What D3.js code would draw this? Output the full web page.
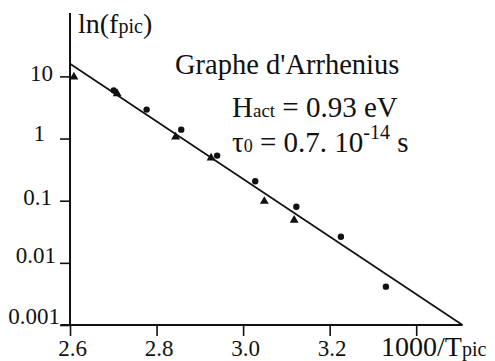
<!DOCTYPE html>
<html>
<head>
<meta charset="utf-8">
<script src="https://cdn.jsdelivr.net/npm/d3@7"></script>
<style>
  html, body { margin: 0; padding: 0; background: #fff; }
  svg text { font-family: "Liberation Serif", "Times New Roman", Times, "DejaVu Serif", "Noto Serif", serif !important; }
</style>
</head>
<body>
<svg id="chart" width="495" height="361"></svg>
<script>
// ---- data ----
const xTicks = [2.6, 2.8, 3.0, 3.2, 3.4];
const xTickLabels = ["2.6", "2.8", "3.0", "3.2", ""];
const yTicks = [10, 1, 0.1, 0.01, 0.001];
const yTickLabels = ["10", "1", "0.1", "0.01", "0.001"];

// circle series (1000/T, f)
const dotX = [2.701, 2.777, 2.857, 2.940, 3.028, 3.123, 3.226, 3.330];
const dotY = [5.96, 2.92, 1.39, 0.532, 0.206, 0.0798, 0.0263, 0.00414];
// triangle series
const triX = [2.609, 2.709, 2.844, 2.926, 3.049, 3.118];
const triY = [9.8, 5.27, 1.06, 0.489, 0.098, 0.0487];
// fitted Arrhenius line
const fitX = [2.6, 3.507];
const fitY = [16, 0.001];

// ---- layout ----
const svg = d3.select("#chart");
const x = d3.scaleLinear().domain([2.578, 3.507]).range([60.5, 462.5]);
const y = d3.scaleLog().domain([0.001, Math.pow(10, 2.02)]).range([325, 13]);
const x0 = x(2.6);
const ink = "#111";
const serif = "Liberation Serif, Times New Roman, Times, DejaVu Serif, serif";

// axes lines
svg.append("line").attr("x1", x(2.578)).attr("x2", x(3.507))
  .attr("y1", y(0.001)).attr("y2", y(0.001))
  .attr("stroke", ink).attr("stroke-width", 2);
svg.append("line").attr("x1", x0).attr("x2", x0)
  .attr("y1", y.range()[1]).attr("y2", y(0.001))
  .attr("stroke", ink).attr("stroke-width", 2);

// x axis ticks
const xAxis = d3.axisBottom(x).tickValues(xTicks)
  .tickFormat((d, i) => xTickLabels[i]).tickSize(11).tickSizeOuter(0).tickPadding(6);
const gx = svg.append("g").attr("transform", `translate(0,${y(0.001)})`).call(xAxis)
  .attr("font-family", serif);
gx.select(".domain").remove();
gx.selectAll(".tick line").attr("stroke", ink).attr("stroke-width", 1.6);
gx.selectAll(".tick text").attr("fill", ink).attr("font-size", 23)
  .attr("dx", 2).attr("dy", 0).attr("y", 31);

// y axis ticks
const yLabelNudge = [[-17, 4], [-25, 2], [-18, 4], [-14, 0], [-10, -2]];
const yAxis = d3.axisLeft(y).tickValues(yTicks)
  .tickFormat((d, i) => yTickLabels[i]).tickSize(10).tickSizeOuter(0);
const gy = svg.append("g").attr("transform", `translate(${x0},0)`).call(yAxis)
  .attr("font-family", serif);
gy.select(".domain").remove();
gy.selectAll(".tick line").attr("stroke", ink).attr("stroke-width", 1.6);
gy.selectAll(".tick text").attr("fill", ink).attr("font-size", 23)
  .attr("dy", null)
  .attr("x", (d, i) => yLabelNudge[i][0])
  .attr("y", (d, i) => yLabelNudge[i][1]);

// fitted line
const line = d3.line().x(d => x(d[0])).y(d => y(d[1]));
svg.append("path").datum(fitX.map((v, i) => [v, fitY[i]]))
  .attr("d", line).attr("fill", "none").attr("stroke", ink).attr("stroke-width", 1.7);

// triangles
svg.append("g").selectAll("path").data(triX.map((v, i) => [v, triY[i]])).join("path")
  .attr("transform", d => `translate(${x(d[0])},${y(d[1])})`)
  .attr("d", d3.symbol(d3.symbolTriangle, 34)).attr("fill", ink);

// dots
svg.append("g").selectAll("circle").data(dotX.map((v, i) => [v, dotY[i]])).join("circle")
  .attr("cx", d => x(d[0])).attr("cy", d => y(d[1])).attr("r", 3.2).attr("fill", ink);

// y title
const yt = svg.append("text").attr("x", x0 + 8).attr("y", 33).attr("font-size", 28).attr("fill", ink);
yt.append("tspan").text("ln(f");
yt.append("tspan").attr("font-size", 20).text("pic");
yt.append("tspan").text(")");

// x title
const xt = svg.append("text").attr("x", 381).attr("y", 356).attr("font-size", 28).attr("fill", ink);
xt.append("tspan").text("1000/T");
xt.append("tspan").attr("font-size", 20).text("pic");

// annotations
svg.append("text").attr("x", 175).attr("y", 74).attr("font-size", 28.5).attr("fill", ink)
  .text("Graphe d'Arrhenius");

const h = svg.append("text").attr("x", 232).attr("y", 117).attr("font-size", 29).attr("fill", ink);
h.append("tspan").text("H");
h.append("tspan").attr("font-size", 19).text("act");
h.append("tspan").text(" = 0.93 eV");

const t = svg.append("text").attr("x", 232).attr("y", 152).attr("font-size", 29).attr("fill", ink);
t.append("tspan").text("τ");
t.append("tspan").attr("font-size", 18).text("0");
t.append("tspan").text(" = 0.7. 10");
t.append("tspan").attr("font-size", 20).attr("dy", -13).text("-14");
t.append("tspan").attr("dy", 13).text(" s");
</script>
</body>
</html>
